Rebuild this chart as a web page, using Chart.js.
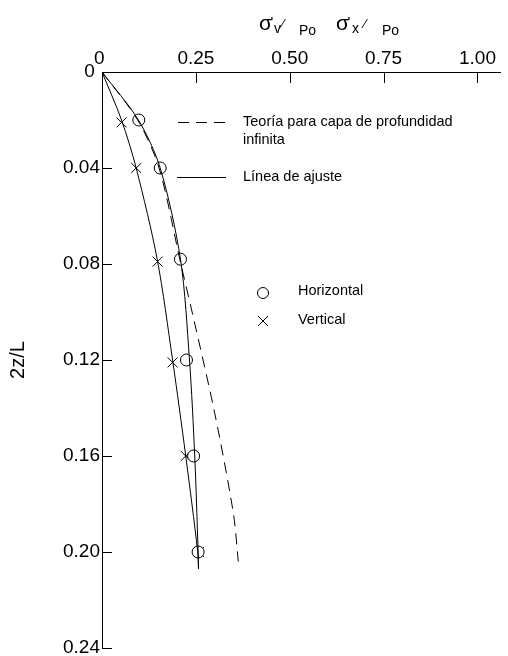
<!DOCTYPE html>
<html>
<head>
<meta charset="utf-8">
<script src="https://cdn.jsdelivr.net/npm/chart.js@4.4.1/dist/chart.umd.min.js"></script>
<style>
  html, body { margin: 0; padding: 0; background: #fff; }
  #wrap { width: 508px; height: 656px; }
</style>
</head>
<body>
<div id="wrap"><canvas id="c" width="508" height="656"></canvas></div>
<script>
// Measured stress ratios against normalised depth 2z/L
const depthHorizontal = [0.020, 0.040, 0.078, 0.120, 0.160, 0.200];
const horizontalRatio = [0.098, 0.155, 0.209, 0.225, 0.244, 0.256];
const depthVertical   = [0.021, 0.040, 0.079, 0.121, 0.160, 0.200];
const verticalRatio   = [0.052, 0.091, 0.148, 0.188, 0.223, 0.258];

// Fitted curves
const fitDepth           = [0, 0.020, 0.040, 0.078, 0.120, 0.160, 0.200, 0.207];
const fitHorizontalRatio = [0, 0.097, 0.155, 0.209, 0.233, 0.247, 0.256, 0.257];
const fitVerticalRatio   = [0, 0.052, 0.091, 0.147, 0.188, 0.223, 0.255, 0.257];

// Theory for an infinitely deep layer
const theoryDepth = [0, 0.020, 0.040, 0.080, 0.100, 0.142, 0.184, 0.204];
const theoryRatio = [0, 0.095, 0.152, 0.210, 0.240, 0.300, 0.350, 0.363];

// Axis ticks
const xTickValues = [0, 0.25, 0.50, 0.75, 1.00];
const xTickLabels = ['0 ', '0.25', '0.50', '0.75', '1.00'];
const yTickValues = [0, 0.04, 0.08, 0.12, 0.16, 0.20, 0.24];
const yTickLabels = ['0 ', '0.04', '0.08', '0.12', '0.16', '0.20', '0.24'];

const FONT = '"Liberation Sans", Arial, sans-serif';
const pts = (xs, ys) => xs.map((x, i) => ({ x: x, y: ys[i] }));

// Inward tick marks, the top label and the key
const decorations = {
  id: 'decorations',
  afterDraw(chart) {
    const ctx = chart.ctx;
    const xs = chart.scales.x, ys = chart.scales.y;
    const area = chart.chartArea;
    ctx.save();
    ctx.strokeStyle = '#000';
    ctx.fillStyle = '#000';
    ctx.lineWidth = 1;

    // tick marks pointing into the plot
    ctx.beginPath();
    xTickValues.forEach(v => {
      const px = Math.round(xs.getPixelForValue(v)) + 0.5;
      ctx.moveTo(px, area.top);
      ctx.lineTo(px, area.top + 11);
    });
    yTickValues.forEach(v => {
      const py = Math.round(ys.getPixelForValue(v)) + 0.5;
      ctx.moveTo(area.left, py);
      ctx.lineTo(area.left + 10, py);
    });
    ctx.stroke();

    // axis label: σ'v ⁄ Po   σ'x ⁄ Po
    ctx.textBaseline = 'alphabetic';
    ctx.textAlign = 'left';
    const part = (t, x, y, size) => { ctx.font = size + 'px ' + FONT; ctx.fillText(t, x, y); };
    part('σ', 259, 30, 21);
    part("'", 270.5, 27, 15);
    part('v', 274, 33, 14);
    part('⁄', 282, 28, 13);
    part('Po', 299, 35, 14);
    part('σ', 336, 30, 21);
    part("'", 347.5, 27, 15);
    part('x', 352, 33, 14);
    part('⁄', 364, 28, 13);
    part('Po', 382, 35, 14);

    // key
    ctx.font = '14.5px ' + FONT;
    ctx.textBaseline = 'middle';
    ctx.setLineDash([11, 7]);
    ctx.beginPath();
    ctx.moveTo(178, 122.5); ctx.lineTo(232, 122.5);
    ctx.stroke();
    ctx.setLineDash([]);
    ctx.fillText('Teoría para capa de profundidad', 243, 122);
    ctx.fillText('infinita', 243, 140);
    ctx.beginPath();
    ctx.moveTo(177, 177.5); ctx.lineTo(226, 177.5);
    ctx.stroke();
    ctx.fillText('Línea de ajuste', 243, 177);

    ctx.beginPath();
    ctx.arc(263, 293, 5.5, 0, Math.PI * 2);
    ctx.stroke();
    ctx.beginPath();
    ctx.moveTo(258, 316); ctx.lineTo(268, 326);
    ctx.moveTo(268, 316); ctx.lineTo(258, 326);
    ctx.stroke();
    ctx.fillText('Horizontal', 298, 291);
    ctx.fillText('Vertical', 298, 320);
    ctx.restore();
  }
};

const lineStyle = { showLine: true, pointRadius: 0, borderColor: '#000', borderWidth: 1, tension: 0.3, fill: false };

new Chart(document.getElementById('c'), {
  type: 'scatter',
  data: {
    datasets: [
      Object.assign({ label: 'Teoría para capa de profundidad infinita', data: pts(theoryRatio, theoryDepth), borderDash: [11, 7] }, lineStyle),
      Object.assign({ label: 'Línea de ajuste (horizontal)', data: pts(fitHorizontalRatio, fitDepth) }, lineStyle),
      Object.assign({ label: 'Línea de ajuste (vertical)', data: pts(fitVerticalRatio, fitDepth) }, lineStyle),
      {
        label: 'Horizontal', data: pts(horizontalRatio, depthHorizontal),
        pointStyle: 'circle', pointRadius: 6, borderWidth: 1,
        borderColor: '#000', backgroundColor: '#fff'
      },
      {
        label: 'Vertical', data: pts(verticalRatio, depthVertical),
        pointStyle: 'crossRot', pointRadius: 7, borderWidth: 1,
        borderColor: '#000', backgroundColor: '#000'
      }
    ]
  },
  options: {
    responsive: false,
    animation: false,
    devicePixelRatio: 1,
    layout: { padding: { top: 0, right: 4, bottom: 8, left: 0 } },
    plugins: { legend: { display: false }, tooltip: { enabled: false } },
    scales: {
      x: {
        type: 'linear', position: 'top', min: 0, max: 1.06,
        afterBuildTicks: s => { s.ticks = xTickValues.map(v => ({ value: v })); },
        afterFit: s => { s.height = 72; s.paddingLeft = 0; s.paddingRight = 0; },
        ticks: {
          padding: 2, color: '#000', maxRotation: 0, autoSkip: false,
          font: { family: FONT, size: 19 },
          callback: v => xTickLabels[xTickValues.indexOf(v)]
        },
        grid: { display: false, drawTicks: false },
        border: { display: true, color: '#000', width: 1 }
      },
      y: {
        type: 'linear', reverse: true, min: 0, max: 0.24,
        afterBuildTicks: s => { s.ticks = yTickValues.map(v => ({ value: v })); },
        afterFit: s => { s.width = 102; s.paddingTop = 0; s.paddingBottom = 0; },
        ticks: {
          padding: 2, color: '#000', autoSkip: false,
          font: { family: FONT, size: 19 },
          callback: v => yTickLabels[yTickValues.indexOf(v)]
        },
        grid: { display: false, drawTicks: false },
        border: { display: true, color: '#000', width: 1 },
        title: {
          display: true, text: '2z/L', color: '#000',
          font: { family: FONT, size: 20 }, padding: { top: 6, bottom: 0 }
        }
      }
    }
  },
  plugins: [decorations]
});
</script>
</body>
</html>
